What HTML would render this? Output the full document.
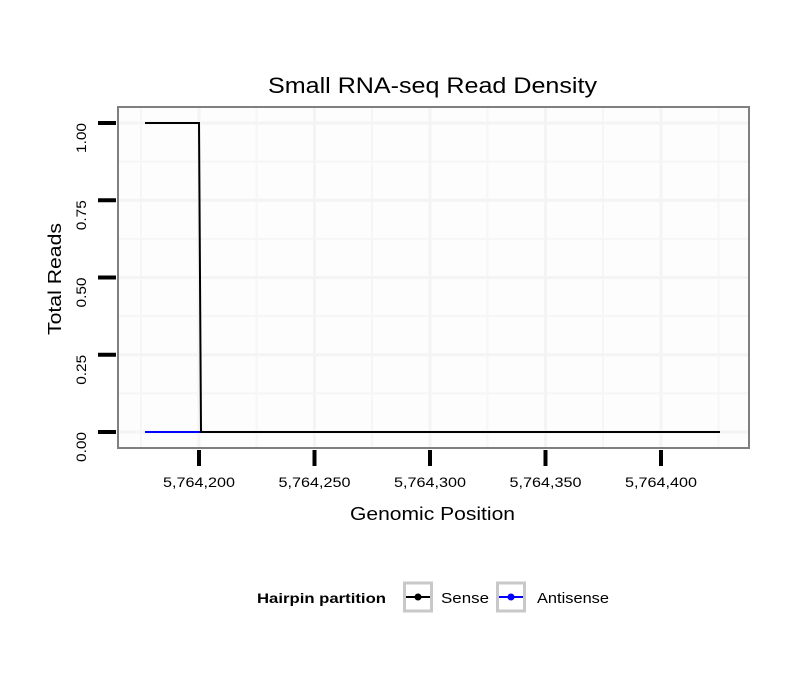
<!DOCTYPE html>
<html><head><style>body{margin:0;background:#fff}svg{display:block}</style></head><body>
<svg width="810" height="690" xmlns="http://www.w3.org/2000/svg" font-family="Liberation Sans, sans-serif">
<rect width="810" height="690" fill="#fff"/>
<rect x="118" y="107" width="631" height="341" fill="#fdfdfd"/>
<g stroke="#f6f6f6" stroke-width="2">
<line x1="141" y1="107" x2="141" y2="448"/><line x1="256.5" y1="107" x2="256.5" y2="448"/><line x1="372" y1="107" x2="372" y2="448"/><line x1="487.5" y1="107" x2="487.5" y2="448"/><line x1="603" y1="107" x2="603" y2="448"/><line x1="718.5" y1="107" x2="718.5" y2="448"/>
<line x1="118" y1="161.6" x2="749" y2="161.6"/><line x1="118" y1="238.9" x2="749" y2="238.9"/><line x1="118" y1="316.1" x2="749" y2="316.1"/><line x1="118" y1="393.4" x2="749" y2="393.4"/>
</g>
<g stroke="#f4f4f4" stroke-width="3">
<line x1="199" y1="107" x2="199" y2="448"/><line x1="314.5" y1="107" x2="314.5" y2="448"/><line x1="430" y1="107" x2="430" y2="448"/><line x1="545.5" y1="107" x2="545.5" y2="448"/><line x1="661" y1="107" x2="661" y2="448"/>
<line x1="118" y1="123" x2="749" y2="123"/><line x1="118" y1="200.2" x2="749" y2="200.2"/><line x1="118" y1="277.5" x2="749" y2="277.5"/><line x1="118" y1="354.8" x2="749" y2="354.8"/><line x1="118" y1="432" x2="749" y2="432"/>
</g>
<rect x="118" y="107" width="631" height="341" fill="none" stroke="#7f7f7f" stroke-width="2"/>
<polyline points="145,432 201,432" stroke="#0000ff" stroke-width="2" fill="none"/>
<polyline points="145,123 199,123 201,432 720,432" stroke="#000" stroke-width="2" fill="none"/>
<g stroke="#000" stroke-width="4">
<line x1="98" y1="123" x2="116" y2="123"/><line x1="98" y1="200.2" x2="116" y2="200.2"/><line x1="98" y1="277.5" x2="116" y2="277.5"/><line x1="98" y1="354.8" x2="116" y2="354.8"/><line x1="98" y1="432" x2="116" y2="432"/>
<line x1="199" y1="450" x2="199" y2="466"/><line x1="314.5" y1="450" x2="314.5" y2="466"/><line x1="430" y1="450" x2="430" y2="466"/><line x1="545.5" y1="450" x2="545.5" y2="466"/><line x1="661" y1="450" x2="661" y2="466"/>
</g>
<g font-size="14" fill="#000">
<g text-anchor="end">
<text transform="translate(86,123) rotate(-90)" textLength="30" lengthAdjust="spacingAndGlyphs">1.00</text>
<text transform="translate(86,200.2) rotate(-90)" textLength="30" lengthAdjust="spacingAndGlyphs">0.75</text>
<text transform="translate(86,277.5) rotate(-90)" textLength="30" lengthAdjust="spacingAndGlyphs">0.50</text>
<text transform="translate(86,354.8) rotate(-90)" textLength="30" lengthAdjust="spacingAndGlyphs">0.25</text>
<text transform="translate(86,432) rotate(-90)" textLength="30" lengthAdjust="spacingAndGlyphs">0.00</text>
</g>
<text x="163" y="487" textLength="72" lengthAdjust="spacingAndGlyphs">5,764,200</text>
<text x="278.5" y="487" textLength="72" lengthAdjust="spacingAndGlyphs">5,764,250</text>
<text x="394" y="487" textLength="72" lengthAdjust="spacingAndGlyphs">5,764,300</text>
<text x="509.5" y="487" textLength="72" lengthAdjust="spacingAndGlyphs">5,764,350</text>
<text x="625" y="487" textLength="72" lengthAdjust="spacingAndGlyphs">5,764,400</text>
</g>
<text x="268" y="93" font-size="22" textLength="329" lengthAdjust="spacingAndGlyphs">Small RNA-seq Read Density</text>
<text x="350" y="520" font-size="18" textLength="165" lengthAdjust="spacingAndGlyphs">Genomic Position</text>
<text transform="translate(61,335) rotate(-90)" font-size="18" textLength="112" lengthAdjust="spacingAndGlyphs">Total Reads</text>
<text x="257" y="603" font-size="14" font-weight="bold" textLength="129" lengthAdjust="spacingAndGlyphs">Hairpin partition</text>
<rect x="404.5" y="583" width="27" height="28" fill="#fff" stroke="#c8c8c8" stroke-width="3"/>
<line x1="406" y1="597" x2="430" y2="597" stroke="#000" stroke-width="2"/><circle cx="418" cy="597" r="3.5" fill="#000"/>
<text x="441" y="603" font-size="15" textLength="48" lengthAdjust="spacingAndGlyphs">Sense</text>
<rect x="497.5" y="583" width="27" height="28" fill="#fff" stroke="#c8c8c8" stroke-width="3"/>
<line x1="499" y1="597" x2="523" y2="597" stroke="#0000ff" stroke-width="2"/><circle cx="511" cy="597" r="3.5" fill="#0000ff"/>
<text x="537" y="603" font-size="15" textLength="72" lengthAdjust="spacingAndGlyphs">Antisense</text>
</svg>
</body></html>
